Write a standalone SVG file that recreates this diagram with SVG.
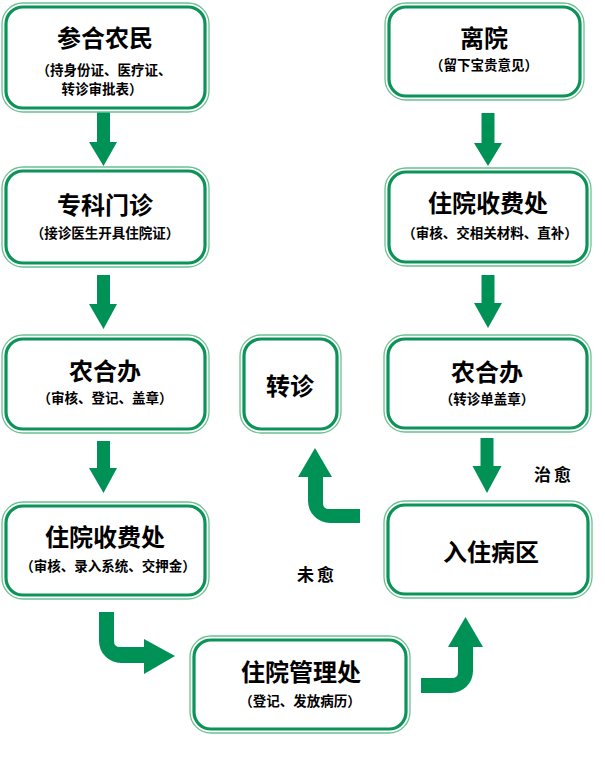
<svg xmlns="http://www.w3.org/2000/svg" width="605" height="757" viewBox="0 0 605 757">
<style>
.o{fill:none;stroke:#6cc093;stroke-width:1.3}
.i{fill:#fff;stroke:#0b9358;stroke-width:3.2}
.t{font-family:"Noto Sans CJK SC","Noto Sans",sans-serif;font-weight:bold;font-size:24px;fill:#000;text-anchor:middle}
.s{font-family:"Noto Sans CJK SC","Noto Sans",sans-serif;font-weight:bold;font-size:13.5px;fill:#000;text-anchor:middle}
.l{font-family:"Noto Sans CJK SC","Noto Sans",sans-serif;font-weight:bold;font-size:17px;fill:#000;text-anchor:middle;letter-spacing:3px}
.a{fill:#009157}
</style>
<rect width="605" height="757" fill="#fff"/>
<g id="connectors">
<path class="a" d="M97,112H110V142H117L103.5,166L89,142H97Z"/>
<path class="a" d="M97,275H110V304H117L103.5,329L89,304H97Z"/>
<path class="a" d="M97,441H110V468H117L103.5,493L89,468H97Z"/>
<path class="a" d="M481.5,113H494.5V143H502L488,166L474,143H481.5Z"/>
<path class="a" d="M481.5,275H494.5V303H502L488,328L474,303H481.5Z"/>
<path class="a" d="M480.5,438H493.5V466H501.5L487,493L472.5,466H480.5Z"/>
<path class="a" d="M99,612H114V641Q114,647 120,647H144V639L175,656L144,674V663H121A22,22 0 0 1 99,641Z"/>
<path class="a" d="M421,678H452Q458,678 458,672V647H448L465.5,617L483,647H473V671A22,22 0 0 1 451,693H421Z"/>
<path class="a" d="M360,509H329Q323,509 323,503V477H332L315,448L298,477H308V501A22,22 0 0 0 330,523H360Z"/>
</g>
<g id="n1"><rect class="o" x="2" y="3" width="207" height="109" rx="21"/><rect class="i" x="6" y="7" width="199" height="101" rx="17"/>
<text class="t" x="105" y="47">参合农民</text><text class="s" x="104" y="75">（持身份证、医疗证、</text><text class="s" x="102" y="94">转诊审批表）</text></g>
<g id="n2"><rect class="o" x="2" y="167" width="207" height="100" rx="21"/><rect class="i" x="6" y="171" width="199" height="92" rx="17"/>
<text class="t" x="105" y="214">专科门诊</text><text class="s" x="105" y="238">（接诊医生开具住院证）</text></g>
<g id="n3"><rect class="o" x="2" y="335" width="207" height="98" rx="21"/><rect class="i" x="6" y="339" width="199" height="90" rx="17"/>
<text class="t" x="105" y="380">农合办</text><text class="s" x="105" y="403">（审核、登记、盖章）</text></g>
<g id="n4"><rect class="o" x="2" y="502" width="207" height="97" rx="21"/><rect class="i" x="6" y="506" width="199" height="89" rx="17"/>
<text class="t" x="105" y="546">住院收费处</text><text class="s" x="108" y="571">（审核、录入系统、交押金）</text></g>
<g id="n5"><rect class="o" x="190" y="636" width="220" height="97" rx="21"/><rect class="i" x="194" y="640" width="212" height="89" rx="17"/>
<text class="t" x="301" y="681">住院管理处</text><text class="s" x="300" y="706">（登记、发放病历）</text></g>
<g id="n6"><rect class="o" x="384" y="501" width="208" height="97" rx="21"/><rect class="i" x="388" y="505" width="200" height="89" rx="17"/>
<text class="t" x="491" y="561">入住病区</text></g>
<g id="n7"><rect class="o" x="384" y="335" width="207" height="97" rx="21"/><rect class="i" x="388" y="339" width="199" height="89" rx="17"/>
<text class="t" x="487" y="381">农合办</text><text class="s" x="487" y="404">（转诊单盖章）</text></g>
<g id="n8"><rect class="o" x="240" y="335" width="101" height="98" rx="21"/><rect class="i" x="244" y="339" width="93" height="90" rx="17"/>
<text class="t" x="290" y="395">转诊</text></g>
<g id="n9"><rect class="o" x="385" y="168" width="206" height="98" rx="21"/><rect class="i" x="389" y="172" width="198" height="90" rx="17"/>
<text class="t" x="488" y="212">住院收费处</text><text class="s" x="490" y="238">（审核、交相关材料、直补）</text></g>
<g id="n10"><rect class="o" x="385" y="3" width="199" height="97" rx="21"/><rect class="i" x="389" y="7" width="191" height="89" rx="17"/>
<text class="t" x="484" y="47">离院</text><text class="s" x="484" y="70">（留下宝贵意见）</text></g>
<g id="labels">
<text class="l" x="554" y="481">治愈</text>
<text class="l" x="317" y="581">未愈</text>
</g>
</svg>
